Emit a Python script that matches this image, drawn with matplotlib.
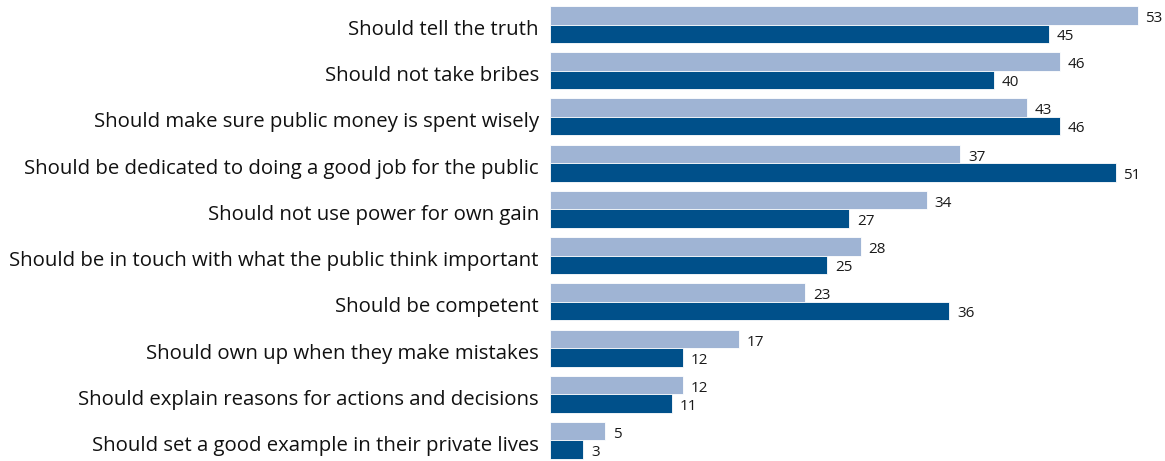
import matplotlib.pyplot as plt
import numpy as np

plt.rcParams['font.family'] = ['Open Sans', 'DejaVu Sans']

categories = [
    "Should tell the truth",
    "Should not take bribes",
    "Should make sure public money is spent wisely",
    "Should be dedicated to doing a good job for the public",
    "Should not use power for own gain",
    "Should be in touch with what the public think important",
    "Should be competent",
    "Should own up when they make mistakes",
    "Should explain reasons for actions and decisions",
    "Should set a good example in their private lives",
]
light_vals = [53, 46, 43, 37, 34, 28, 23, 17, 12, 5]
dark_vals = [45, 40, 46, 51, 27, 25, 36, 12, 11, 3]

light_col = "#9fb4d4"
dark_col = "#00508a"

fig = plt.figure(figsize=(11.65, 4.61), dpi=100)
ax = fig.add_axes([550 / 1165, 0, 615 / 1165, 1])

y = np.arange(len(categories))
h = 0.4
ax.barh(y - h / 2, light_vals, height=h, color=light_col, edgecolor="white", linewidth=0.6)
ax.barh(y + h / 2, dark_vals, height=h, color=dark_col, edgecolor="white", linewidth=0.6)

for i, v in enumerate(light_vals):
    ax.text(v + 0.7, i - h / 2 + 0.07, str(v), va="center", ha="left", fontsize=11, color="#1a1a1a")
for i, v in enumerate(dark_vals):
    ax.text(v + 0.7, i + h / 2 + 0.06, str(v), va="center", ha="left", fontsize=11, color="#1a1a1a")

# category names, right-aligned just left of the bars
for i, c in enumerate(categories):
    ax.text(-0.018, i + 0.12, c, transform=ax.get_yaxis_transform(),
            ha="right", va="center", fontsize=14.65, color="#111111")

ax.set_yticks([])
ax.set_xticks([])
ax.set_xlim(0, 615 / 11.09)
ax.set_ylim(9 + 20.5 / 46.2, -24.5 / 46.2)
for s in ax.spines.values():
    s.set_visible(False)

fig.savefig("out.png", dpi=100)
